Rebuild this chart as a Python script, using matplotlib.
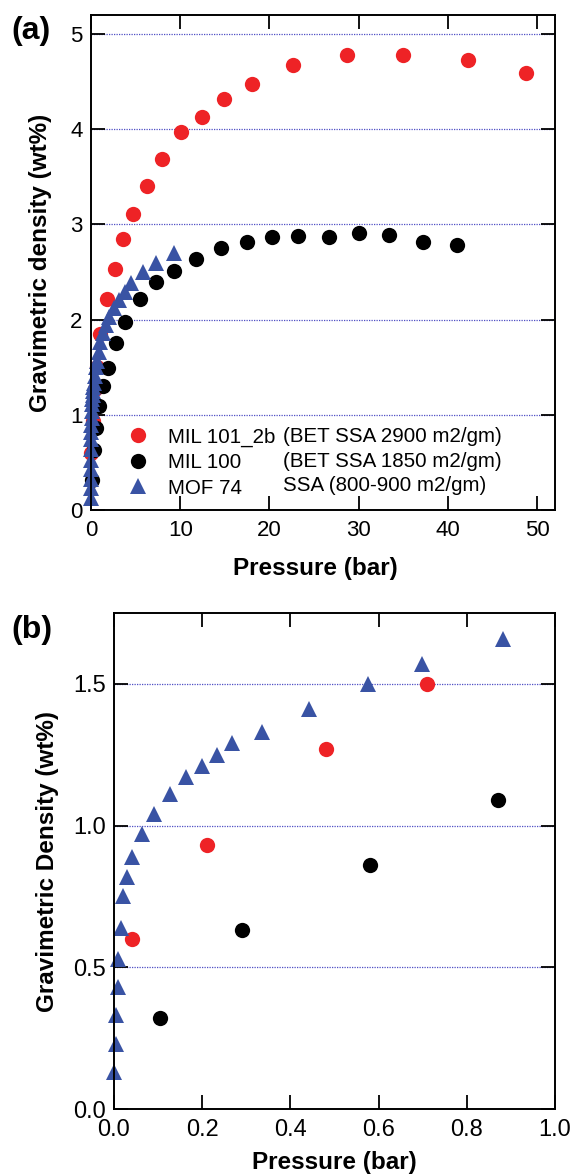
import numpy as np
from matplotlib import pyplot as plt

plt.rcParams['font.family'] = ['Liberation Sans', 'DejaVu Sans']

# MIL 101_2b
mil101_p = [0.04, 0.21, 0.48, 0.71, 1.0, 1.75, 2.7, 3.6, 4.7, 6.25, 7.95, 10.1, 12.4, 14.9, 18.0, 22.6, 28.7, 35.0, 42.3, 48.7]
mil101_w = [0.60, 0.93, 1.27, 1.50, 1.85, 2.22, 2.53, 2.85, 3.11, 3.40, 3.69, 3.97, 4.13, 4.32, 4.48, 4.67, 4.78, 4.78, 4.73, 4.59]

# MIL 100
mil100_p = [0.105, 0.29, 0.58, 0.87, 1.3, 1.9, 2.8, 3.8, 5.5, 7.3, 9.3, 11.8, 14.6, 17.5, 20.3, 23.2, 26.7, 30.0, 33.4, 37.2, 41.0]
mil100_w = [0.32, 0.63, 0.86, 1.09, 1.30, 1.49, 1.75, 1.97, 2.22, 2.40, 2.51, 2.64, 2.75, 2.82, 2.87, 2.88, 2.87, 2.91, 2.89, 2.82, 2.78]

# MOF 74
mof74_p = [0.0, 0.005, 0.005, 0.008, 0.010, 0.016, 0.020, 0.029, 0.041, 0.063, 0.091, 0.127, 0.163, 0.200, 0.234,
           0.268, 0.336, 0.442, 0.576, 0.698, 0.882, 1.0, 1.35, 1.7, 2.0, 2.6, 3.1, 3.8, 4.5, 5.8, 7.3, 9.3]
mof74_w = [0.13, 0.23, 0.33, 0.43, 0.53, 0.64, 0.75, 0.82, 0.89, 0.97, 1.04, 1.11, 1.17, 1.21, 1.25,
           1.29, 1.33, 1.41, 1.50, 1.57, 1.66, 1.76, 1.86, 1.94, 2.03, 2.12, 2.21, 2.29, 2.38, 2.50, 2.59, 2.70]

names = ['MIL 101_2b', 'MIL 100', 'MOF 74']
notes = ['(BET SSA 2900 m2/gm)', '(BET SSA 1850 m2/gm)', 'SSA (800-900 m2/gm)']

a_xticks = [0, 10, 20, 30, 40, 50]
a_yticks = [0, 1, 2, 3, 4, 5]
b_xticks = [0.0, 0.2, 0.4, 0.6, 0.8, 1.0]
b_yticks = [0.0, 0.5, 1.0, 1.5]

red = '#EE2326'
blue = '#3953A4'
gridblue = '#4F4FC4'

series = [(mil101_p, mil101_w, 'o', red), (mil100_p, mil100_w, 'o', 'black'), (mof74_p, mof74_w, '^', blue)]

fig = plt.figure(figsize=(5.71, 11.76), dpi=100)
ax_a = fig.add_axes([91 / 571, 1 - 510 / 1176, 464 / 571, 495 / 1176])
ax_b = fig.add_axes([114 / 571, 1 - 1109 / 1176, 441 / 571, 496 / 1176])


def style_axes(ax, xlim, ylim, xticks, yticks, xfmt, yfmt, fs):
    ax.set_xlim(*xlim)
    ax.set_ylim(*ylim)
    ax.set_xticks(xticks)
    ax.set_yticks(yticks)
    ax.set_xticklabels([xfmt.format(v) for v in xticks])
    ax.set_yticklabels([yfmt.format(v) for v in yticks])
    ax.tick_params(direction='in', top=True, right=True, length=10, width=1.3, labelsize=fs)
    ax.tick_params(axis='x', pad=7)
    ax.tick_params(axis='y', pad=6)
    for s in ax.spines.values():
        s.set_linewidth(1.4)
    ax.set_axisbelow(True)
    ax.grid(axis='y', linestyle=(0, (1, 1)), color=gridblue, linewidth=0.9)
    ax.grid(axis='x', visible=False)


# panel (a)
handles = []
for (p, w, m, c), name in zip(series, names):
    h, = ax_a.plot(p, w, linestyle='none', marker=m, color=c, markersize=11, markeredgewidth=0,
                   clip_on=False, label=name)
    handles.append(h)
style_axes(ax_a, (0, 52), (0, 5.2), a_xticks, a_yticks, '{:d}', '{:d}', 16)
ax_a.set_xlabel('Pressure (bar)', fontsize=17.5, fontweight='bold')
ax_a.set_ylabel('Gravimetric density (wt%)', fontsize=17.5, fontweight='bold')
ax_a.xaxis.set_label_coords(0.483, -0.095)
ax_a.yaxis.set_label_coords(-0.084, 0.5)

leg = ax_a.legend(handles=handles, loc='lower left', bbox_to_anchor=(0.079, 0.025), frameon=False,
                  fontsize=14.8, borderpad=0, borderaxespad=0, handlelength=1, handletextpad=0.96,
                  labelspacing=0.31)
for yy, note in zip([0.1475, 0.097, 0.0485], notes):
    ax_a.text(0.414, yy, note, transform=ax_a.transAxes, fontsize=14.8, va='center', ha='left')

# panel (b), only points inside the low pressure window
for p, w, m, c in series:
    p = np.array(p)
    w = np.array(w)
    keep = (p <= 1.0) & (w <= 1.75)
    ax_b.plot(p[keep], w[keep], linestyle='none', marker=m, color=c, markersize=11, markeredgewidth=0,
              clip_on=False)
style_axes(ax_b, (0, 1.0), (0, 1.75), b_xticks, b_yticks, '{:.1f}', '{:.1f}', 17)
ax_b.set_xlabel('Pressure (bar)', fontsize=17.5, fontweight='bold')
ax_b.set_ylabel('Gravimetric Density (wt%)', fontsize=17.5, fontweight='bold')
ax_b.xaxis.set_label_coords(0.5, -0.085)
ax_b.yaxis.set_label_coords(-0.125, 0.5)

fig.text(11 / 571, 1 - 31 / 1176, '(a)', fontsize=23, fontweight='bold', va='center', ha='left')
fig.text(11 / 571, 1 - 630 / 1176, '(b)', fontsize=23, fontweight='bold', va='center', ha='left')

fig.savefig('out.png', dpi=100)
